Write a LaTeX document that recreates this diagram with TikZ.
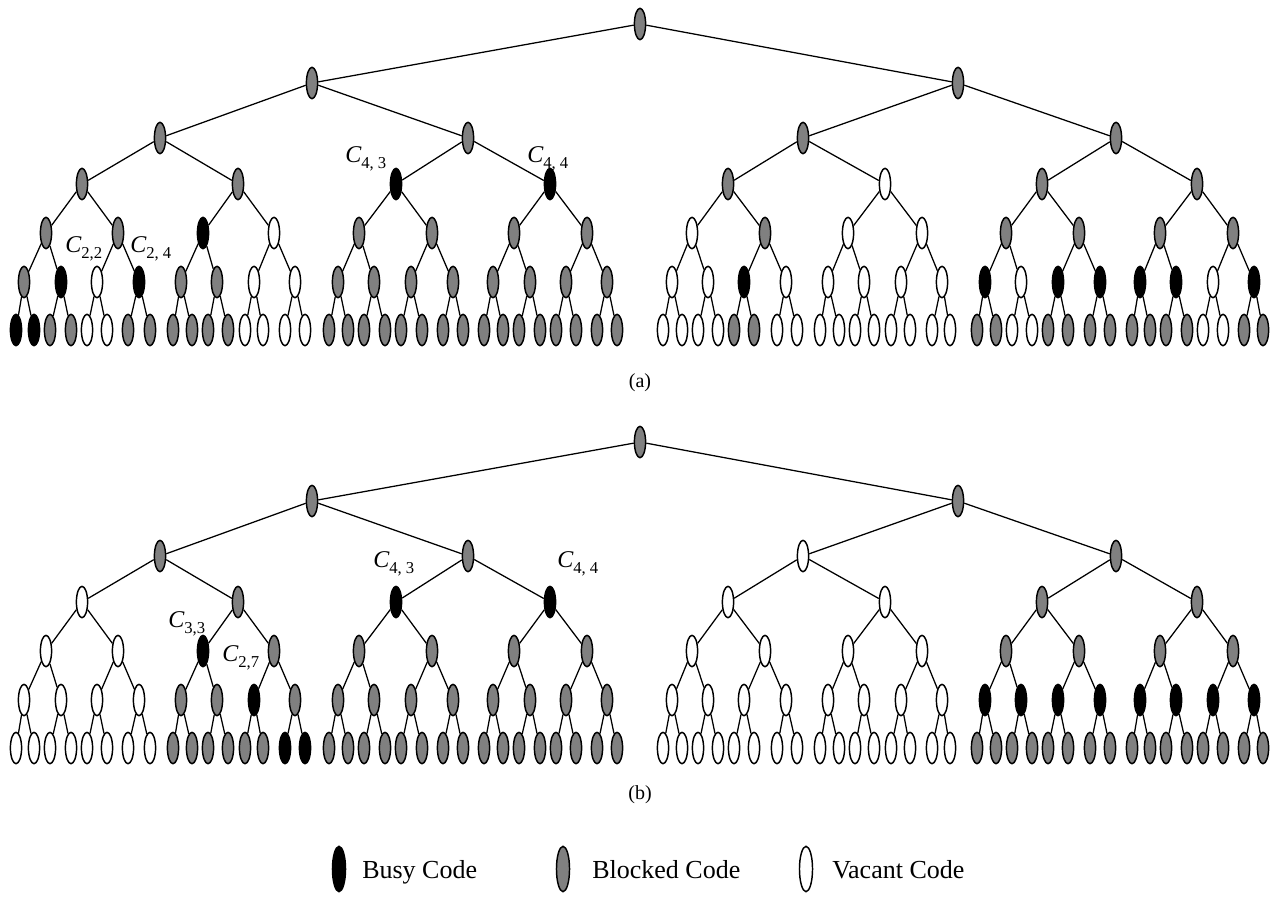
\documentclass[tikz,border=0pt]{standalone}
\usepackage{fontspec}
\setmainfont{Liberation Serif}
\usetikzlibrary{shapes.geometric}
\definecolor{cB}{RGB}{0,0,0}
\definecolor{cG}{RGB}{128,128,128}
\definecolor{cV}{RGB}{255,255,255}
\newcommand\mklevel[4]{%
  \foreach \x/\c [count=\i] in {#4} {
    \node[codenode, fill=c\c] (#1#2-\i) at (\x,#3) {};
    \ifnum#2>0
      \pgfmathtruncatemacro\parid{(\i+1)/2}
      \pgfmathtruncatemacro\plev{#2-1}
      \draw[conn] (#1\plev-\parid) -- (#1#2-\i);
    \fi
  }}
\newcommand\codelab[1]{{\fontsize{18}{18}\selectfont\itshape C}\raisebox{-4.5pt}{\fontsize{12.5}{12.5}\selectfont #1}}
\begin{document}
\begin{tikzpicture}[x=0.75pt,y=-0.75pt,
  codenode/.style={ellipse, draw=black, line width=1.1pt, minimum width=8.4pt, minimum height=23.5pt, inner sep=0pt},
  legnode/.style={ellipse, draw=black, line width=1.1pt, minimum width=9.8pt, minimum height=34pt, inner sep=0pt},
  conn/.style={line width=0.95pt},
  lab/.style={anchor=base west, inner sep=0pt},
  captext/.style={font=\fontsize{15}{15}\selectfont, inner sep=0pt},
  legtext/.style={anchor=base west, font=\fontsize{19.5}{19.5}\selectfont, inner sep=0pt}]
\fill[white] (0,0) rectangle (1274,897);
\useasboundingbox (0,0) rectangle (1274,897);
% ---------- tree (a)
\mklevel{a}{0}{24}{640/G}
\mklevel{a}{1}{83}{312/G,958/G}
\mklevel{a}{2}{138}{160/G,468/G,803/G,1116/G}
\mklevel{a}{3}{184}{82/G,238/G,396/B,550/B,728/G,885/V,1042/G,1197/G}
\mklevel{a}{4}{233}{46/G,118/G,203/B,274/V,359/G,432/G,514/G,587/G,692/V,765/G,848/V,922/V,1006/G,1079/G,1160/G,1233/G}
\mklevel{a}{5}{282}{24/G,61/B,97/V,139/B,181/G,217/G,254/V,295/V,338/G,374/G,411/G,453/G,493/G,530/G,566/G,607/G,672/V,708/V,744/B,786/V,828/V,864/V,901/V,942/V,985/B,1021/V,1058/B,1100/B,1140/B,1176/B,1213/V,1254/B}
\mklevel{a}{6}{330}{16/B,34/B,50/G,71/G,87/V,107/V,128/G,150/G,173/G,192/G,208/G,228/G,245/V,263/V,285/V,305/V,329/G,348/G,364/G,385/G,401/G,422/G,443/G,463/G,484/G,503/G,519/G,540/G,556/G,576/G,597/G,617/G,663/V,682/V,698/V,718/V,734/G,754/G,777/V,797/V,820/V,839/V,855/V,874/V,891/V,910/V,932/V,950/V,977/G,996/G,1012/V,1032/V,1048/G,1068/G,1090/G,1110/G,1132/G,1150/G,1166/G,1187/G,1203/V,1223/V,1244/G,1263/G}
\node[lab] (la1) at (65,252) {\codelab{2,2}};
\node[lab] (la2) at (130,252) {\codelab{2, 4}};
\node[lab] (la3) at (345,162) {\codelab{4, 3}};
\node[lab] (la4) at (527,162) {\codelab{4, 4}};
\node[captext] (capa) at (640,383) {(a)};
% ---------- tree (b)
\mklevel{b}{0}{442}{640/G}
\mklevel{b}{1}{501}{312/G,958/G}
\mklevel{b}{2}{556}{160/G,468/G,803/V,1116/G}
\mklevel{b}{3}{602}{82/V,238/G,396/B,550/B,728/V,885/V,1042/G,1197/G}
\mklevel{b}{4}{651}{46/V,118/V,203/B,274/G,359/G,432/G,514/G,587/G,692/V,765/V,848/V,922/V,1006/G,1079/G,1160/G,1233/G}
\mklevel{b}{5}{700}{24/V,61/V,97/V,139/V,181/G,217/G,254/B,295/G,338/G,374/G,411/G,453/G,493/G,530/G,566/G,607/G,672/V,708/V,744/V,786/V,828/V,864/V,901/V,942/V,985/B,1021/B,1058/B,1100/B,1140/B,1176/B,1213/B,1254/B}
\mklevel{b}{6}{748}{16/V,34/V,50/V,71/V,87/V,107/V,128/V,150/V,173/G,192/G,208/G,228/G,245/G,263/G,285/B,305/B,329/G,348/G,364/G,385/G,401/G,422/G,443/G,463/G,484/G,503/G,519/G,540/G,556/G,576/G,597/G,617/G,663/V,682/V,698/V,718/V,734/V,754/V,777/V,797/V,820/V,839/V,855/V,874/V,891/V,910/V,932/V,950/V,977/G,996/G,1012/G,1032/G,1048/G,1068/G,1090/G,1110/G,1132/G,1150/G,1166/G,1187/G,1203/G,1223/G,1244/G,1263/G}
\node[lab] (lb1) at (373,567) {\codelab{4, 3}};
\node[lab] (lb2) at (557,567) {\codelab{4, 4}};
\node[lab] (lb3) at (168,627) {\codelab{3,3}};
\node[lab] (lb4) at (222,661) {\codelab{2,7}};
\node[captext] (capb) at (640,795) {(b)};
% ---------- legend
\node[legnode, fill=cB] (lg1) at (339,869) {};
\node[legtext] (lt1) at (362,878) {Busy Code};
\node[legnode, fill=cG] (lg2) at (563,869) {};
\node[legtext] (lt2) at (592,878) {Blocked Code};
\node[legnode, fill=cV] (lg3) at (806,869) {};
\node[legtext] (lt3) at (832,878) {Vacant Code};
\end{tikzpicture}
\end{document}
